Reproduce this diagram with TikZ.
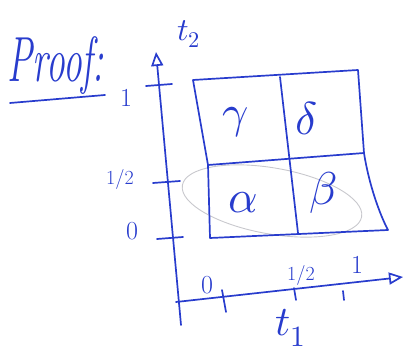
\documentclass[tikz,border=0pt]{standalone}
\usepackage{unicode-math}
\usetikzlibrary{arrows.meta}
\definecolor{ink}{RGB}{40,60,205}
\definecolor{pencil}{RGB}{200,200,205}
\begin{document}
\begin{tikzpicture}[x=1pt,y=-1pt,
  inkline/.style={draw=ink, line width=1.7pt, line cap=round, line join=round},
  axisline/.style={inkline, -{Triangle[open, length=14pt, width=12pt]}},
  lbl/.style={text=ink, inner sep=0pt, font=\fontsize{26}{28}\selectfont},
  greek/.style={text=ink, inner sep=0pt, font=\fontsize{46}{50}\selectfont}]
\useasboundingbox (0,0) rectangle (415,352);
% title
\node[text=ink, inner sep=0pt, font=\fontsize{44}{48}\selectfont\itshape] (proof) at (56,66) {\scalebox{0.85}[1.45]{Proof:}};
\coordinate (ul1) at (10,103);
\coordinate (ul2) at (105,95);
\draw[inkline] (ul1) -- (ul2);
% axes
\coordinate (vbot) at (181,325);
\coordinate (vtop) at (156,52);
\coordinate (hleft) at (176,302);
\coordinate (hright) at (403,277);
\draw[axisline] (vbot) -- (vtop);
\draw[axisline] (hleft) -- (hright);
% y ticks
\coordinate (ty1a) at (146,86); \coordinate (ty1b) at (172,84);
\coordinate (tyha) at (153,183); \coordinate (tyhb) at (180,181);
\coordinate (ty0a) at (157,239); \coordinate (ty0b) at (183,237);
\draw[inkline] (ty1a) -- (ty1b);
\draw[inkline] (tyha) -- (tyhb);
\draw[inkline] (ty0a) -- (ty0b);
\node[lbl] (y1) at (126,98) {1};
\node[lbl, font=\fontsize{20}{22}\selectfont] (yh) at (120,180) {1/2};
\node[lbl] (y0) at (132,231) {0};
% x ticks
\coordinate (tx0a) at (222,290); \coordinate (tx0b) at (226,312);
\coordinate (txha) at (294,288); \coordinate (txhb) at (296,300);
\coordinate (tx1a) at (343,291); \coordinate (tx1b) at (344,300);
\draw[inkline] (tx0a) -- (tx0b);
\draw[inkline] (txha) -- (txhb);
\draw[inkline] (tx1a) -- (tx1b);
\node[lbl] (x0) at (207,285) {0};
\node[lbl, font=\fontsize{20}{22}\selectfont] (xh) at (301,276) {1/2};
\node[lbl] (x1) at (357,265) {1};
\node[lbl, font=\fontsize{42}{46}\selectfont] (t1) at (291,328) {$t_1$};
\node[lbl, font=\fontsize{32}{34}\selectfont] (t2) at (189,34) {$t_2$};
% grey ellipse
\draw[pencil, line width=0.9pt] (272,201) ellipse[x radius=91, y radius=33, rotate=-10];
% grid
\coordinate (tl) at (193,80);
\coordinate (tm) at (280,77);
\coordinate (tr) at (358,70);
\coordinate (ml) at (208,165);
\coordinate (mr) at (364,153);
\coordinate (bl) at (210,238);
\coordinate (bm) at (298,233);
\coordinate (br) at (388,230);
\draw[inkline] (tl) -- (tr) -- (mr) .. controls (369,185) and (380,215) .. (br) -- (bl) -- (ml) -- cycle;
\draw[inkline] (ml) -- (mr);
\draw[inkline] (tm) -- (bm);
\node[greek] (gam) at (236,122) {$\gamma$};
\node[greek] (del) at (307,118) {$\delta$};
\node[greek] (alp) at (243,203) {$\alpha$};
\node[greek] (bet) at (323,193) {$\beta$};
\end{tikzpicture}
\end{document}
